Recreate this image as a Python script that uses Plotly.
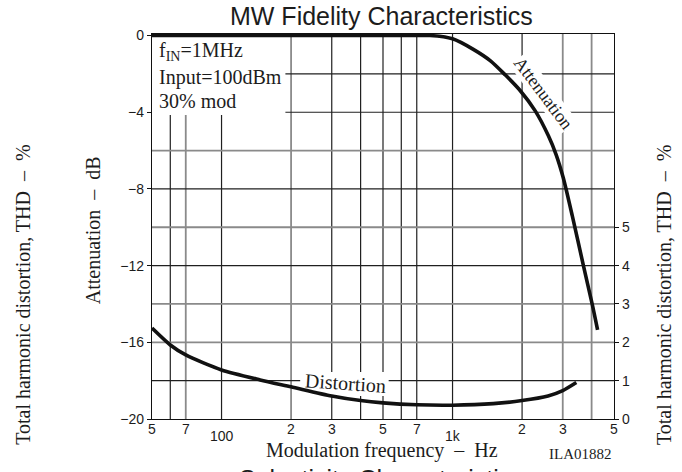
import math
import plotly.graph_objects as go

# Attenuation response (dB) versus modulation frequency (Hz)
att_freq = [50, 500, 700, 800, 1000, 1230, 1460, 1690, 1965, 2280, 2600, 2810, 3015, 3300, 3680, 4030, 4245]
att_db = [0, 0, 0, 0, -0.17, -0.72, -1.32, -2.05, -2.88, -3.93, -5.23, -6.22, -7.42, -9.41, -11.96, -14.05, -15.35]

# Total harmonic distortion (%) versus modulation frequency (Hz)
thd_freq = [50, 60, 70, 100, 147, 200, 300, 400, 500, 700, 1000, 1500, 2000, 2590, 3000, 3435]
thd_pct = [2.37, 1.93, 1.67, 1.28, 1.02, 0.84, 0.60, 0.48, 0.42, 0.37, 0.36, 0.40, 0.48, 0.60, 0.74, 0.95]

# Axis ticks
x_minor_vals = [50, 70, 200, 300, 500, 700, 2000, 3000, 5000]
x_minor_text = ["5", "7", "2", "3", "5", "7", "2", "3", "5"]
x_decade_vals = [100, 1000]
x_decade_text = ["100", "1k"]
y_left_ticks = [0, -4, -8, -12, -16, -20]
y_right_ticks = [0, 1, 2, 3, 4, 5]

# Grid lines (dark and light strokes)
vgrid_dark = [60, 100, 300, 400, 500, 600, 700, 1000, 2000]
vgrid_light = [70, 200, 3000, 4000]
hgrid_dark = [-2, -4, -8, -12, -18]
hgrid_light = [-6, -10, -14, -16]

SERIF = "Liberation Serif, Times New Roman, serif"
SANS = "Liberation Sans, Arial, sans-serif"
INK = "#1c1c1c"
DARK = "#202020"
LIGHT = "#8a8a8a"

Y_TOP = 0.08  # small headroom so the 0 dB line is not clipped

fig = go.Figure()

fig.add_trace(go.Scatter(
    x=att_freq, y=att_db, mode="lines",
    line=dict(color="#111111", width=3.6, shape="spline", smoothing=0.7),
    hoverinfo="skip", showlegend=False,
))
fig.add_trace(go.Scatter(
    x=thd_freq, y=thd_pct, mode="lines", yaxis="y2",
    line=dict(color="#111111", width=3.6, shape="spline", smoothing=0.7),
    hoverinfo="skip", showlegend=False,
))

shapes = []
for v in vgrid_dark:
    shapes.append(dict(type="line", xref="x", yref="paper", x0=v, x1=v, y0=0, y1=1,
                       line=dict(color=DARK, width=1.2), layer="below"))
for v in vgrid_light:
    shapes.append(dict(type="line", xref="x", yref="paper", x0=v, x1=v, y0=0, y1=1,
                       line=dict(color=LIGHT, width=1.8), layer="below"))
for v in hgrid_dark:
    shapes.append(dict(type="line", xref="paper", yref="y", x0=0, x1=1, y0=v, y1=v,
                       line=dict(color=DARK, width=1.2), layer="below"))
for v in hgrid_light:
    shapes.append(dict(type="line", xref="paper", yref="y", x0=0, x1=1, y0=v, y1=v,
                       line=dict(color=LIGHT, width=1.8), layer="below"))
# white panels behind the condition text and the distortion label
shapes.append(dict(type="rect", xref="x", yref="y", x0=50, x1=189, y0=-4.15, y1=Y_TOP,
                   fillcolor="white", line=dict(width=0), layer="below"))
shapes.append(dict(type="rect", xref="x", yref="y", x0=219, x1=529, y0=-18.8, y1=-17.55,
                   fillcolor="white", line=dict(width=0), layer="below"))

annotations = []
# frequency tick labels
for v, t in zip(x_minor_vals, x_minor_text):
    annotations.append(dict(x=math.log10(v), y=-0.026, xref="x", yref="paper", text=t,
                            showarrow=False, xanchor="center", yanchor="middle",
                            font=dict(family=SANS, size=14, color=INK)))
for v, t in zip(x_decade_vals, x_decade_text):
    annotations.append(dict(x=math.log10(v), y=-0.043, xref="x", yref="paper", text=t,
                            showarrow=False, xanchor="center", yanchor="middle",
                            font=dict(family=SANS, size=14, color=INK)))

# conditions block
cond_lines = ["f<sub>IN</sub>=1MHz", "Input=100dBm", "30% mod"]
cond_y = [0.955, 0.886, 0.826]
for t, yy in zip(cond_lines, cond_y):
    annotations.append(dict(x=0.011, y=yy, xref="paper", yref="paper", text=t,
                            showarrow=False, xanchor="left", yanchor="middle",
                            font=dict(family=SERIF, size=20, color=INK)))

# curve labels
annotations.append(dict(x=math.log10(2470), y=-3.0, xref="x", yref="y", text="Attenuation",
                        showarrow=False, textangle=53, bgcolor="white", borderpad=0,
                        font=dict(family=SERIF, size=18, color=INK)))
annotations.append(dict(x=math.log10(343), y=-18.1, xref="x", yref="y", text="Distortion",
                        showarrow=False, textangle=4, borderpad=0,
                        font=dict(family=SERIF, size=20, color=INK)))

# titles
annotations.append(dict(x=0.497, y=1.048, xref="paper", yref="paper",
                        text="MW Fidelity Characteristics", showarrow=False,
                        xanchor="center", yanchor="middle",
                        font=dict(family=SANS, size=25, color=INK)))
annotations.append(dict(x=0.497, y=-0.082, xref="paper", yref="paper",
                        text="Modulation frequency  \u2013  Hz", showarrow=False,
                        xanchor="center", yanchor="middle",
                        font=dict(family=SERIF, size=20, color=INK)))
annotations.append(dict(x=1.0, y=-0.091, xref="paper", yref="paper",
                        text="ILA01882", showarrow=False,
                        xanchor="right", yanchor="middle",
                        font=dict(family=SERIF, size=15, color=INK)))
annotations.append(dict(x=0.497, y=-0.115, xref="paper", yref="paper",
                        text="Selectivity Characteristics", showarrow=False,
                        xanchor="center", yanchor="top",
                        font=dict(family=SANS, size=25, color=INK)))
annotations.append(dict(x=-0.128, y=0.49, xref="paper", yref="paper",
                        text="Attenuation  \u2013  dB", showarrow=False, textangle=-90,
                        xanchor="center", yanchor="middle",
                        font=dict(family=SERIF, size=20, color=INK)))
thd_title = "Total harmonic distortion, THD  \u2013  %"
annotations.append(dict(x=-0.281, y=0.323, xref="paper", yref="paper",
                        text=thd_title, showarrow=False, textangle=-90,
                        xanchor="center", yanchor="middle",
                        font=dict(family=SERIF, size=20, color=INK)))
annotations.append(dict(x=1.107, y=0.323, xref="paper", yref="paper",
                        text=thd_title, showarrow=False, textangle=-90,
                        xanchor="center", yanchor="middle",
                        font=dict(family=SERIF, size=20, color=INK)))

fig.update_layout(
    width=682, height=472,
    margin=dict(l=152, r=68, t=34, b=53, pad=0),
    paper_bgcolor="white", plot_bgcolor="white",
    showlegend=False,
    shapes=shapes,
    annotations=annotations,
    xaxis=dict(type="log", range=[math.log10(50), math.log10(5000)],
               showgrid=False, zeroline=False, showticklabels=False, ticks="",
               showline=True, linecolor="#111111", linewidth=1.3, mirror=True),
    yaxis=dict(range=[-20, Y_TOP], tickvals=y_left_ticks, ticks="outside", ticklen=4,
               tickcolor="#111111", showgrid=False, zeroline=False,
               showline=True, linecolor="#111111", linewidth=1.3,
               tickfont=dict(family=SANS, size=14, color=INK)),
    yaxis2=dict(range=[0, (Y_TOP + 20) / 2], overlaying="y", side="right",
                tickvals=y_right_ticks, ticks="outside", ticklen=4,
                tickcolor="#111111", showgrid=False, zeroline=False,
                showline=True, linecolor="#111111", linewidth=1.3,
                tickfont=dict(family=SANS, size=14, color=INK)),
)

fig.write_html("out.html")
